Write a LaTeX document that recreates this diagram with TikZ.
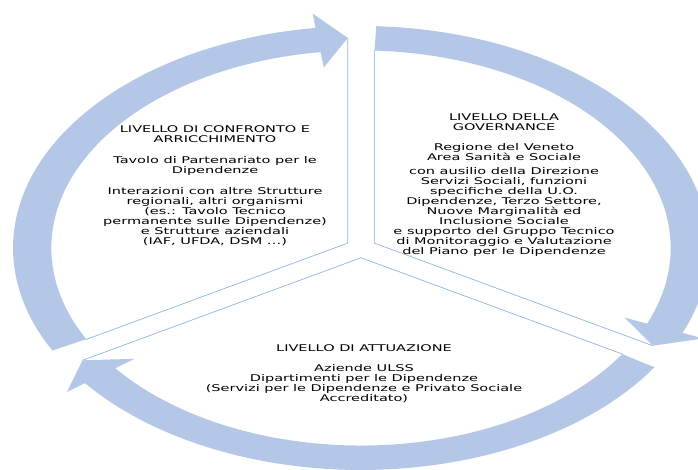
\documentclass[tikz,border=0pt]{standalone}
\usepackage{fontspec}
\setmainfont{DejaVu Sans}
\usepackage{tikz}
\usetikzlibrary{calc}
\definecolor{rband}{HTML}{B4C7E7}
\definecolor{redge}{HTML}{8EB4E3}
\tikzset{
 band/.style={fill=rband,draw=none},
 edge/.style={draw=redge,line width=0.7pt},
 levtext/.style={align=center,inner sep=0pt,yscale=0.638,
   font=\fontsize{14.5}{15.7}\selectfont}
}

\begin{document}
\begin{tikzpicture}[x=348pt,y=222pt]
 \useasboundingbox (-1.0374,-1) rectangle (0.9684,1.1171);
 \clip (-1.0374,-1) rectangle (0.9684,1.1171);
 % sector corners and arrow tips
 \coordinate (vl) at (150:0.044);
 \coordinate (vr) at (30:0.044);
 \coordinate (vb) at (270:0.044);
 \coordinate (tl) at (92.3:0.947);
 \coordinate (tr) at (-27.7:0.947);
 \coordinate (tb) at (212.3:0.947);
 % sector edges
 \draw[edge] (tl) -- (vl) -- ($(vl)+(210:0.87)$);
 \draw[edge] ($(vr)+(90:0.87)$) -- (vr) -- (tr);
 \draw[edge] ($(vb)+(330:0.87)$) -- (vb) -- (tb);
 % circular arrows
 \fill[band] plot[domain=87.5:-22.5,samples=60] (\x:1) -- (-22.5:1.065) -- (tr)
   -- (-22.5:0.82) -- plot[domain=-22.5:87.5,samples=60] (\x:0.89) -- cycle;
 \fill[band] plot[domain=327.5:217.5,samples=60] (\x:1) -- (217.5:1.065) -- (tb)
   -- (217.5:0.82) -- plot[domain=217.5:327.5,samples=60] (\x:0.89) -- cycle;
 \fill[band] plot[domain=207.5:97.5,samples=60] (\x:1) -- (97.5:1.065) -- (tl)
   -- (97.5:0.82) -- plot[domain=97.5:207.5,samples=60] (\x:0.89) -- cycle;
 % texts
 \node[levtext] (confronto) at (-0.4195,0.279) {LIVELLO DI CONFRONTO E\\ARRICCHIMENTO\\[17pt]
   Tavolo di Partenariato per le\\Dipendenze\\[17pt]
   Interazioni con altre Strutture\\regionali, altri organismi\\(es.: Tavolo Tecnico\\
   permanente sulle Dipendenze)\\e Strutture aziendali\\(IAF, UFDA, DSM …)};
 \node[levtext] (governance) at (0.411,0.282) {LIVELLO DELLA\\GOVERNANCE\\[14.7pt]
   Regione del Veneto\\Area Sanità e Sociale\\[7.2pt]
   con ausilio della Direzione\\Servizi Sociali, funzioni\\specifiche della U.O.\\
   Dipendenze, Terzo Settore,\\Nuove Marginalità ed\\Inclusione Sociale\\
   e supporto del Gruppo Tecnico\\di Monitoraggio e Valutazione\\del Piano per le Dipendenze};
 \node[levtext] (attuazione) at (0.0086,-0.566) {LIVELLO DI ATTUAZIONE\\[15.7pt]
   Aziende ULSS\\Dipartimenti per le Dipendenze\\(Servizi per le Dipendenze e Privato Sociale\\
   Accreditato)};
\end{tikzpicture}
\end{document}
